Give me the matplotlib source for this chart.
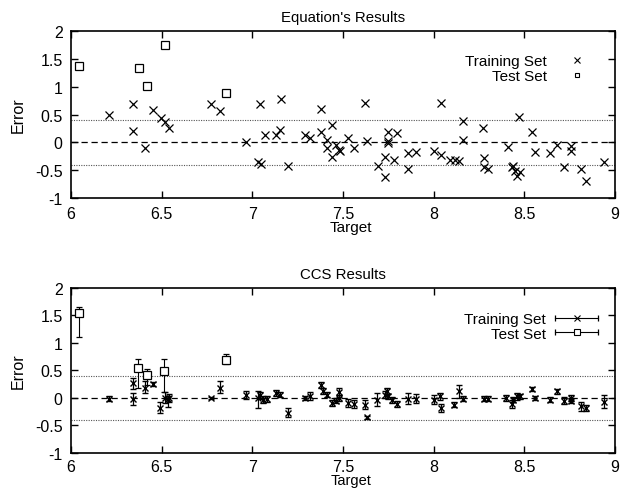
import matplotlib.pyplot as plt
import numpy as np
from matplotlib.lines import Line2D
from matplotlib.legend_handler import HandlerLine2D, HandlerTuple

plt.rcParams['font.family'] = ['Liberation Sans', 'DejaVu Sans']
plt.rcParams['font.size'] = 10

# Equation's results
eq_train_x = [6.21, 6.34, 6.34, 6.41, 6.45, 6.495, 6.52, 6.54, 6.77, 6.82, 6.967,
              7.04, 7.03, 7.05, 7.16, 7.07, 7.13, 7.15, 7.195, 7.29, 7.32, 7.38, 7.38,
              7.44, 7.41, 7.41, 7.44, 7.46, 7.48, 7.485, 7.53, 7.56, 7.62, 7.63, 7.695,
              7.73, 7.73, 7.75, 7.75, 7.75, 7.80, 7.78, 7.86, 7.90, 7.86, 8.0,
              8.04, 8.04, 8.09, 8.12, 8.14, 8.16, 8.16, 8.27, 8.28, 8.28, 8.30, 8.41,
              8.43, 8.435, 8.45, 8.46, 8.47, 8.475, 8.54, 8.56, 8.64, 8.68, 8.72, 8.76,
              8.76, 8.81, 8.84, 8.94]
eq_train_y = [0.50, 0.68, 0.20, -0.10, 0.575, 0.43, 0.37, 0.25, 0.68, 0.56, 0.0,
              0.68, -0.36, -0.39, 0.77, 0.14, 0.13, 0.23, -0.42, 0.14, 0.07, 0.59, 0.19,
              0.32, 0.05, -0.10, -0.26, -0.05, -0.14, -0.16, 0.08, -0.11, 0.70, 0.02, -0.42,
              -0.27, -0.62, 0.19, 0.03, -0.01, 0.17, -0.31, -0.20, -0.17, -0.47, -0.15,
              0.71, -0.23, -0.32, -0.32, -0.34, 0.39, 0.05, 0.26, -0.28, -0.44, -0.47, -0.08,
              -0.45, -0.43, -0.51, -0.60, 0.45, -0.53, 0.19, -0.17, -0.19, -0.05, -0.44, -0.07,
              -0.16, -0.47, -0.69, -0.35]
eq_test_x = [6.046, 6.375, 6.42, 6.52, 6.857]
eq_test_y = [1.37, 1.33, 1.01, 1.75, 0.885]

# CCS results (value, lower and upper error)
ccs_train_x = [6.21, 6.34, 6.34, 6.41, 6.45, 6.49, 6.52, 6.535, 6.54, 6.77, 6.82, 6.965,
               7.03, 7.04, 7.06, 7.08, 7.13, 7.15, 7.195, 7.29, 7.32, 7.38, 7.39, 7.41,
               7.44, 7.46, 7.48, 7.48, 7.53, 7.56, 7.62, 7.63, 7.69, 7.73, 7.745, 7.75,
               7.77, 7.80, 7.86, 7.90, 8.0, 8.035, 8.04, 8.11, 8.14, 8.16, 8.28, 8.30,
               8.40, 8.43, 8.435, 8.46, 8.475, 8.54, 8.56, 8.64, 8.68, 8.72, 8.76, 8.76,
               8.81, 8.84, 8.94]
ccs_train_y = [-0.01, 0.27, -0.01, 0.19, 0.25, -0.18, 0.0, -0.02, 0.0, 0.0, 0.18, 0.05,
               0.0, 0.05, -0.03, -0.02, 0.09, 0.06, -0.27, 0.0, 0.03, 0.24, 0.13, 0.06,
               -0.09, -0.05, 0.10, 0.0, -0.09, -0.11, -0.12, -0.35, -0.03, 0.06, 0.13, 0.03,
               -0.04, -0.11, -0.01, -0.01, -0.03, 0.03, -0.18, -0.12, 0.12, -0.01, -0.01, -0.01,
               0.0, -0.11, -0.03, 0.03, 0.03, 0.16, 0.0, -0.03, 0.12, -0.05, 0.0, -0.05,
               -0.15, -0.18, -0.07]
ccs_train_lo = [0.05, 0.1, 0.12, 0.1, 0.04, 0.09, 0.1, 0.15, 0.08, 0.02, 0.09, 0.07,
                0.18, 0.06, 0.06, 0.05, 0.05, 0.05, 0.08, 0.03, 0.07, 0.05, 0.05, 0.05,
                0.06, 0.05, 0.08, 0.05, 0.07, 0.07, 0.08, 0.03, 0.12, 0.06, 0.05, 0.05,
                0.05, 0.06, 0.1, 0.08, 0.08, 0.06, 0.07, 0.05, 0.12, 0.05, 0.05, 0.05,
                0.05, 0.08, 0.05, 0.06, 0.05, 0.04, 0.04, 0.05, 0.05, 0.06, 0.06, 0.05,
                0.08, 0.05, 0.12]
ccs_train_hi = [0.05, 0.09, 0.1, 0.12, 0.04, 0.11, 0.1, 0.05, 0.08, 0.02, 0.13, 0.07,
                0.12, 0.06, 0.06, 0.05, 0.05, 0.05, 0.08, 0.03, 0.07, 0.05, 0.05, 0.05,
                0.06, 0.05, 0.08, 0.05, 0.07, 0.07, 0.08, 0.03, 0.12, 0.06, 0.05, 0.05,
                0.05, 0.06, 0.1, 0.08, 0.08, 0.06, 0.07, 0.05, 0.12, 0.05, 0.05, 0.05,
                0.05, 0.08, 0.05, 0.06, 0.05, 0.04, 0.04, 0.05, 0.05, 0.06, 0.06, 0.05,
                0.08, 0.05, 0.12]
ccs_test_x = [6.046, 6.37, 6.42, 6.515, 6.855]
ccs_test_y = [1.54, 0.545, 0.42, 0.485, 0.69]
ccs_test_lo = [0.43, 0.365, 0.18, 0.385, 0.07]
ccs_test_hi = [0.12, 0.165, 0.11, 0.225, 0.11]

xticks = [6, 6.5, 7, 7.5, 8, 8.5, 9]
xtick_labels = ['6', '6.5', '7', '7.5', '8', '8.5', '9']
yticks = [-1, -0.5, 0, 0.5, 1, 1.5, 2]
ytick_labels = ['-1', '-0.5', '0', '0.5', '1', '1.5', '2']
band = 0.4

fig = plt.figure(figsize=(6.24, 4.89), dpi=100)
ax1 = fig.add_axes([0.1138, 0.593, 0.8718, 0.3416])
ax2 = fig.add_axes([0.1138, 0.0716, 0.8718, 0.3374])


def style_axes(ax, title, xpad, xtpad, xlsize):
    ax.set_xlim(6, 9)
    ax.set_ylim(-1, 2)
    ax.set_xticks(xticks)
    ax.set_xticklabels(xtick_labels)
    ax.set_yticks(yticks)
    ax.set_yticklabels(ytick_labels)
    ax.tick_params(direction='in', length=5, width=1, top=True, right=True,
                   labelsize=11.5, pad=6)
    ax.tick_params(axis='x', labeltop=False, pad=xtpad)
    for s in ax.spines.values():
        s.set_linewidth(1.2)
    ax.axhline(0, color='black', lw=0.9, ls=(0, (5, 3)), zorder=1)
    ax.axhline(band, color='#555555', lw=0.8, ls=(0, (1, 1.2)), zorder=1)
    ax.axhline(-band, color='#555555', lw=0.8, ls=(0, (1, 1.2)), zorder=1)
    ax.set_title(title, fontsize=10.8, pad=7)
    ax.set_xlabel('Target', fontsize=xlsize, labelpad=xpad)
    ax.xaxis.label.set_x(0.515)
    ax.set_ylabel('Error', fontsize=11.5, labelpad=7)


style_axes(ax1, "Equation's Results", -1, 6, 11)
style_axes(ax2, "CCS Results", -0.3, 4, 10.5)

# top panel: plain scatter
ax1.plot(eq_train_x, eq_train_y, ls='none', marker='x', ms=5.5, mew=0.9,
         color='black')
ax1.plot(eq_test_x, eq_test_y, ls='none', marker='s', ms=5.5, mew=0.9,
         mfc='none', color='black')
key_x = Line2D([], [], ls='none', marker='x', ms=4, mew=0.8, color='black')
key_s = Line2D([], [], ls='none', marker='s', ms=3.5, mew=0.8, mfc='none',
               color='black')
ax1.legend([key_x, key_s], ['Training Set', 'Test Set'], loc='upper right',
           frameon=False, markerfirst=False, fontsize=11,
           handlelength=1.0, handletextpad=1.5, labelspacing=0.05,
           borderpad=0, borderaxespad=0, bbox_to_anchor=(0.945, 0.86))

# bottom panel: values with error bars
ax2.errorbar(ccs_train_x, ccs_train_y, yerr=[ccs_train_lo, ccs_train_hi],
             fmt='x', ms=4.5, mew=1.0, color='black', ecolor='black',
             elinewidth=0.9, capsize=2, capthick=0.9)
ax2.errorbar(ccs_test_x, ccs_test_y, yerr=[ccs_test_lo, ccs_test_hi],
             fmt='s', ms=5.5, mew=0.9, mfc='white', color='black', ecolor='black',
             elinewidth=0.8, capsize=2.5, capthick=0.8)

# gnuplot-like legend keys: horizontal bar with end caps and a marker in the middle
train_bar = Line2D([], [], color='black', lw=0.8, marker='|', ms=4, mew=0.9)
train_mk = Line2D([], [], ls='none', color='black', marker='x', ms=4, mew=0.8)
test_bar = Line2D([], [], color='black', lw=0.8, marker='|', ms=4, mew=0.9)
test_mk = Line2D([], [], ls='none', color='black', marker='s', ms=4, mew=0.8,
                 mfc='white')
hmap = {train_bar: HandlerLine2D(numpoints=2), test_bar: HandlerLine2D(numpoints=2),
        train_mk: HandlerLine2D(numpoints=1), test_mk: HandlerLine2D(numpoints=1),
        tuple: HandlerTuple(ndivide=1, pad=0)}
ax2.legend([(train_bar, train_mk), (test_bar, test_mk)], ['Training Set', 'Test Set'],
           handler_map=hmap, loc='upper right', frameon=False, markerfirst=False,
           fontsize=11, handlelength=3.4, handletextpad=0.3, labelspacing=0.05,
           borderpad=0, borderaxespad=0, bbox_to_anchor=(0.977, 0.855))

fig.savefig('out.png', dpi=100)
